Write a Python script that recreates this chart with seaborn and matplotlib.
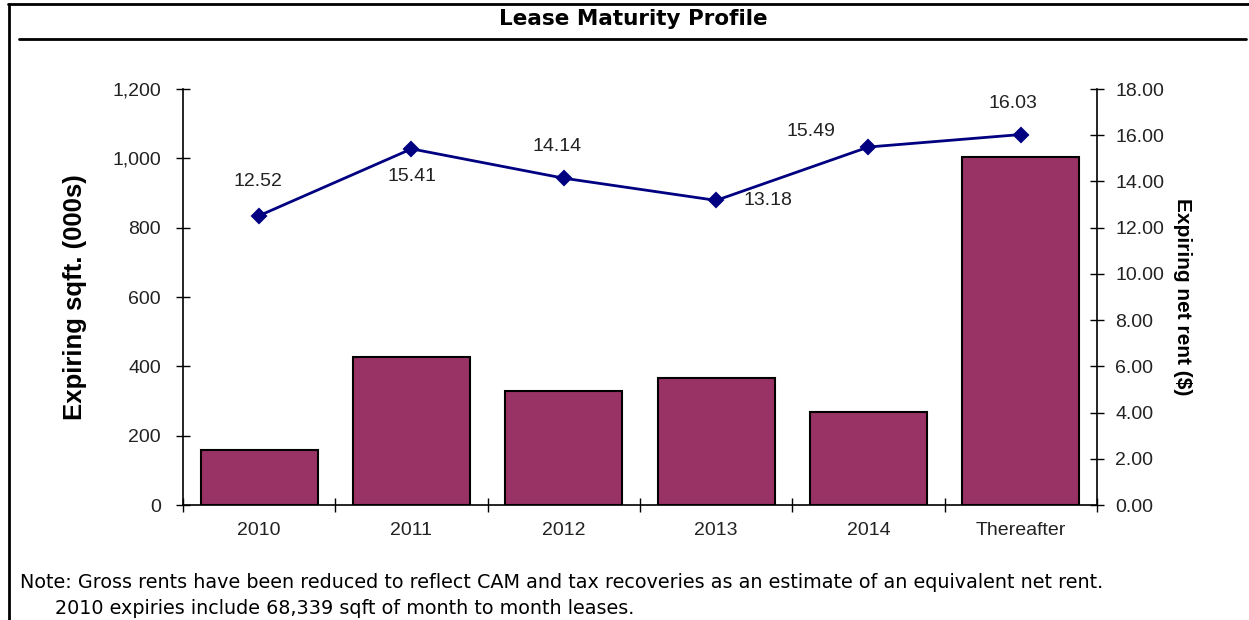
import matplotlib
matplotlib.use("Agg")
import matplotlib.pyplot as plt
from matplotlib.lines import Line2D
import seaborn as sns
import pandas as pd

categories = ["2010", "2011", "2012", "2013", "2014", "Thereafter"]
sqft = [158, 427, 329, 366, 268, 1004]
rent = [12.52, 15.41, 14.14, 13.18, 15.49, 16.03]
rent_labels = ["12.52", "15.41", "14.14", "13.18", "15.49", "16.03"]
left_ticks = [0, 200, 400, 600, 800, 1000, 1200]
right_ticks = [0, 2, 4, 6, 8, 10, 12, 14, 16, 18]

sns.set_theme(style="white")
plt.rcParams["font.family"] = ["Liberation Sans", "DejaVu Sans"]

df = pd.DataFrame({"cat": categories, "sqft": sqft, "rent": rent})

fig = plt.figure(figsize=(12.49, 6.2), dpi=100)
ax = fig.add_axes([183 / 1249, 1 - 505 / 620, (1097 - 183) / 1249, (505 - 89) / 620])
ax.set_facecolor("none")

sns.barplot(data=df, x="cat", y="sqft", ax=ax, color="#993366", saturation=1,
            width=0.77, edgecolor="black", linewidth=1.5, zorder=2)
ax.set_xlim(-0.5, 5.5)
ax.set_ylim(0, 1200)
ax.set_yticks(left_ticks)
ax.set_yticklabels([f"{v:,}" for v in left_ticks], fontsize=14, color="#222222")
ax.set_xticks(range(len(categories)))
ax.set_xticklabels(categories, fontsize=14, color="#222222")
ax.set_xticks([i - 0.5 for i in range(len(categories) + 1)], minor=True)
ax.tick_params(axis="x", which="major", length=0, pad=12)
ax.tick_params(axis="x", which="minor", direction="inout", length=10, width=1, color="black", bottom=True)
ax.tick_params(axis="y", direction="inout", length=10, width=1, color="black", left=True, pad=11)
ax.set_xlabel("")
ax.set_ylabel("Expiring sqft. (000s)", fontsize=18.5, fontweight="bold", labelpad=18, color="black")
for s in ["top", "right"]:
    ax.spines[s].set_visible(False)
for s in ["left", "bottom"]:
    ax.spines[s].set_color("black")
    ax.spines[s].set_linewidth(1.2)

ax2 = ax.twinx()
sns.pointplot(data=df, x="cat", y="rent", ax=ax2, color="#000080", markers="D",
              linestyles="-", markersize=7, linewidth=2, zorder=3)
ax2.set_xlim(-0.5, 5.5)
ax2.set_ylim(0, 18)
ax2.set_yticks(right_ticks)
ax2.set_yticklabels([f"{v:.2f}" for v in right_ticks], fontsize=14, color="#222222")
ax2.tick_params(axis="y", direction="inout", length=10, width=1, color="black", right=True, pad=8)
ax2.set_ylabel("Expiring net rent ($)", fontsize=15, fontweight="bold", rotation=-90,
               labelpad=20, color="black")
ax2.set_xlabel("")
for s in ["top", "left", "bottom"]:
    ax2.spines[s].set_visible(False)
ax2.spines["right"].set_color("black")
ax2.spines["right"].set_linewidth(1.2)

offsets = [(-1, 34), (1, -28), (-7, 32), (27, 0), (-58, 16), (-8, 31)]
for i, (lab, v) in enumerate(zip(rent_labels, rent)):
    dx, dy = offsets[i]
    ax2.annotate(lab, (i, v), xytext=(dx, dy), textcoords="offset pixels",
                 ha="left" if i == 3 else "center", va="center",
                 fontsize=14, color="#222222")

# title, frame and notes
fig.text(633 / 1249, 1 - 19 / 620, "Lease Maturity Profile", ha="center", va="center",
         fontsize=15.5, fontweight="bold", family="DejaVu Sans", color="black")
fig.add_artist(Line2D([19 / 1249, 1246 / 1249], [1 - 39 / 620, 1 - 39 / 620],
                      transform=fig.transFigure, color="black", lw=2))
fig.add_artist(Line2D([9 / 1249, 9 / 1249], [0, 1 - 4 / 620],
                      transform=fig.transFigure, color="black", lw=2))
fig.add_artist(Line2D([8 / 1249, 1], [1 - 4 / 620, 1 - 4 / 620],
                      transform=fig.transFigure, color="black", lw=2))
fig.text(20 / 1249, 1 - 582 / 620,
         "Note: Gross rents have been reduced to reflect CAM and tax recoveries as an estimate of an equivalent net rent.",
         ha="left", va="center", fontsize=13.8, family="DejaVu Sans", color="black")
fig.text(55 / 1249, 1 - 608 / 620,
         "2010 expiries include 68,339 sqft of month to month leases.",
         ha="left", va="center", fontsize=13.8, family="DejaVu Sans", color="black")

fig.savefig("out.png", dpi=100, facecolor="white")
